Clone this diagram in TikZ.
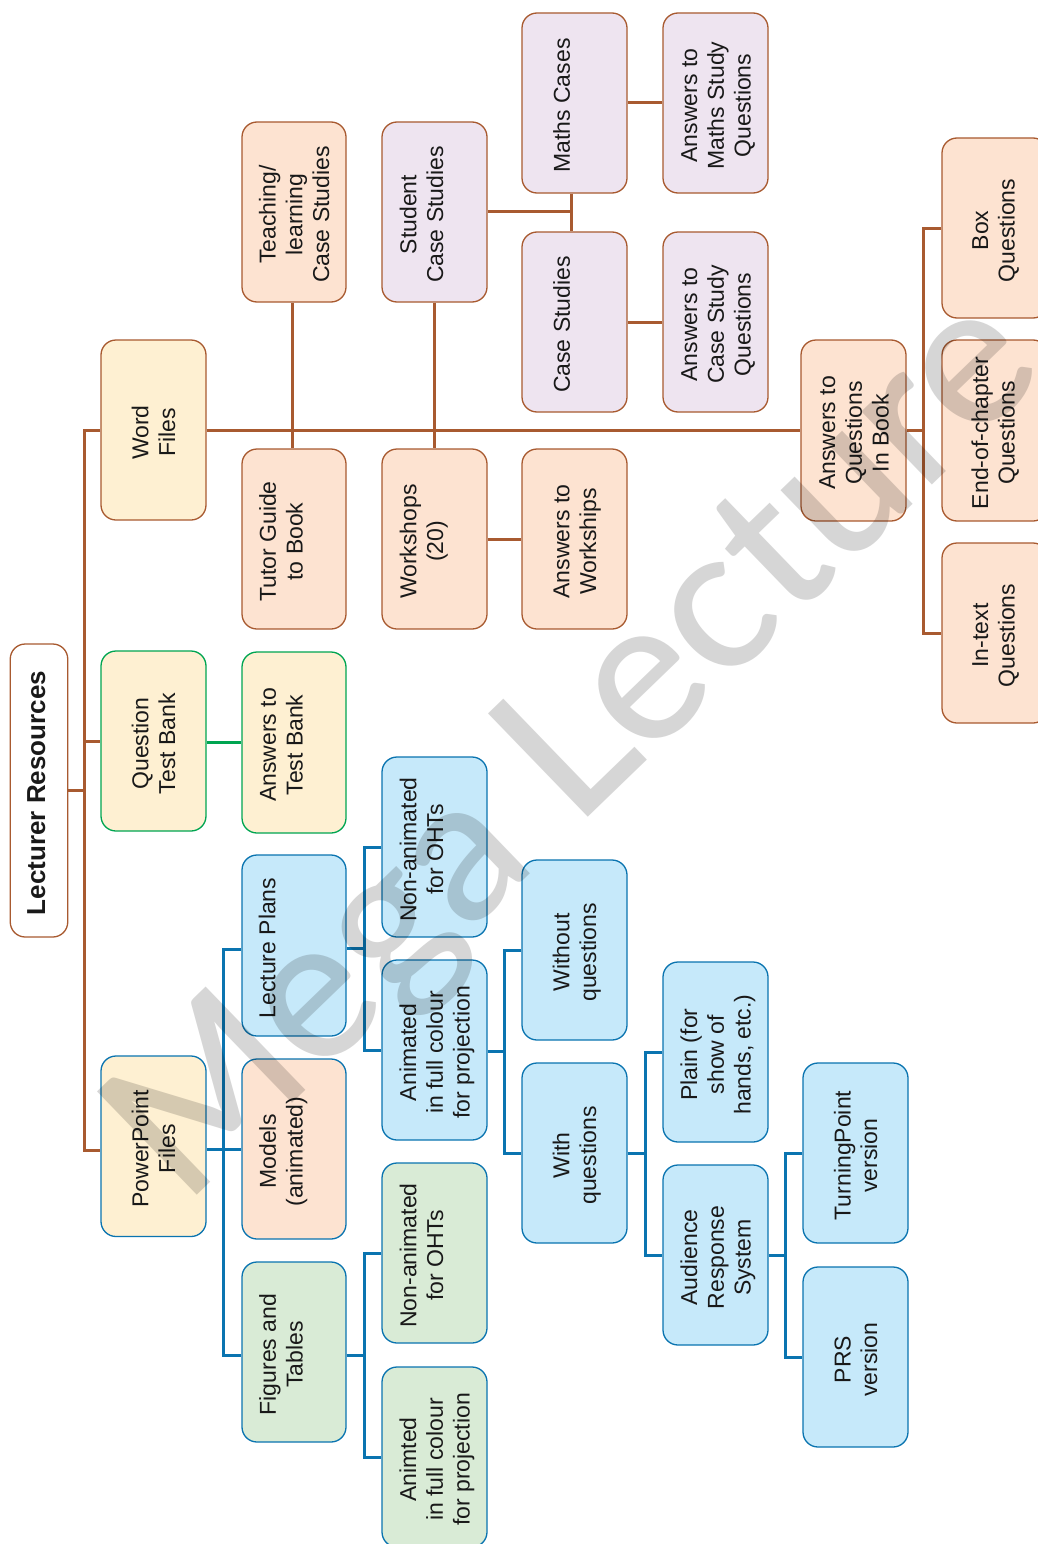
\documentclass[tikz,border=0pt]{standalone}
\usepackage{fontspec}
\setmainfont{Liberation Sans}
\newfontfamily\markfont{Lato Medium}
\definecolor{cream}{HTML}{FEF0D2}
\definecolor{peach}{HTML}{FDE3D1}
\definecolor{lilac}{HTML}{EEE4F0}
\definecolor{sky}{HTML}{C6E9FA}
\definecolor{leaf}{HTML}{D9EBD6}
\definecolor{brownl}{HTML}{A85A30}
\definecolor{bluel}{HTML}{0A74B0}
\definecolor{greenl}{HTML}{00A551}
\definecolor{mark}{HTML}{D6D6D6}
\def\toff{3}
\newcommand{\rt}[1]{\hspace*{\dimexpr\toff pt*2\relax}\rotatebox{90}{\begin{tabular}{@{}c@{}}#1\end{tabular}\kern5pt}}
\newcommand{\bx}[7]{\node[basebox,#6,minimum width={(#4-#2)*1pt},minimum height={(#5-#3)*1pt}] (#1) at ({(#2+#4)/2},{(#3+#5)/2}) {\rt{#7}};}
\tikzset{
 tx/.code={\def\toff{#1}},
 lo/.style={tx=-10},
 basebox/.style={rounded corners=15pt,line width=1.3pt,inner sep=0pt,text=black!90,font=\fontsize{23}{26.7}\selectfont,tx=3},
 bc/.style={draw=brownl,fill=cream},
 bp/.style={draw=brownl,fill=peach},
 bl/.style={draw=brownl,fill=lilac},
 gc/.style={draw=greenl,fill=cream},
 uc/.style={draw=bluel,fill=cream},
 us/.style={draw=bluel,fill=sky},
 up/.style={draw=bluel,fill=peach},
 ug/.style={draw=bluel,fill=leaf},
 brownline/.style={draw=brownl,line width=3pt},
 blueline/.style={draw=bluel,line width=3pt},
 greenline/.style={draw=greenl,line width=3pt},
}
\begin{document}
\begin{tikzpicture}[x=1pt,y=-1pt]
\useasboundingbox (0,0) rectangle (1038,1544);
\clip (0,0) rectangle (1038,1544);
\fill[white] (0,0) rectangle (1038,1544);
% connectors
\coordinate (trunk) at (84,790.5);
\coordinate (lecstub) at (223,949);
\coordinate (figstub) at (223,1355);
\coordinate (lecbus) at (364,948);
\coordinate (figbus) at (364,1355);
\coordinate (anibus) at (504,1051);
\coordinate (withbus) at (645,1153);
\coordinate (audbus) at (785,1255);
\coordinate (qbus) at (923,431);
\coordinate (mcbus) at (571.5,211);
\coordinate (teachx) at (292.5,300);
\coordinate (pptline) at (84,1150);
% nodes
\node[basebox,tx=0,draw=brownl,fill=white,minimum width=57.5pt,minimum height=293pt,font=\fontsize{26}{30}\selectfont\bfseries] (lr) at (39,790.5) {\rt{Lecturer Resources}};
\bx{word}{101}{340}{206}{520}{bc}{Word\\Files}
\bx{qtb}{101}{651}{206}{831}{gc}{Question\\Test Bank}
\bx{ppt}{101}{1056}{206}{1236.5}{uc}{PowerPoint\\Files}
\bx{atb}{242}{652}{346}{833}{gc,lo}{Answers to\\Test Bank}
\bx{lec}{242}{855}{346}{1036}{us,tx=-24}{Lecture Plans}
\bx{mod}{242}{1059}{346}{1239}{up,lo}{Models\\(animated)}
\bx{fig}{242}{1262}{346}{1442}{ug,lo}{Figures and\\Tables}
\bx{nab}{382}{757}{487}{937}{us,lo}{Non-animated\\for OHTs}
\bx{anb}{382}{960}{487}{1140}{us}{Animated\\in full colour\\for projection}
\bx{nag}{382}{1163}{487}{1343}{ug,lo}{Non-animated\\for OHTs}
\bx{ang}{382}{1367}{487}{1547}{ug}{Animted\\in full colour\\for projection}
\bx{woq}{522}{860}{627}{1040}{us}{Without\\questions}
\bx{wiq}{522}{1063}{627}{1243}{us}{With\\questions}
\bx{pla}{663}{962}{768}{1142}{us}{Plain (for\\show of\\hands, etc.)}
\bx{aud}{663}{1165}{768}{1345}{us}{Audience\\Response\\System}
\bx{tp}{803}{1063}{908}{1243}{us}{TurningPoint\\version}
\bx{prs}{803}{1267}{908}{1447}{us}{PRS\\version}
\bx{tut}{242}{449}{346}{629}{bp,lo}{Tutor Guide\\to Book}
\bx{wks}{382}{449}{487}{629}{bp,lo}{Workshops\\(20)}
\bx{awk}{522}{449}{627}{629}{bp}{Answers to\\Workships}
\bx{tea}{242}{122}{346}{302}{bp}{Teaching/\\learning\\Case Studies}
\bx{stu}{382}{122}{487}{302}{bl,lo}{Student\\Case Studies}
\bx{mat}{522}{13}{627}{193}{bl,lo}{Maths Cases}
\bx{amt}{663}{13}{768}{193}{bl}{Answers to\\Maths Study\\Questions}
\bx{cas}{522}{232}{627}{412}{bl,lo}{Case Studies}
\bx{acs}{663}{232}{768}{412}{bl}{Answers to\\Case Study\\Questions}
\bx{aq}{801}{340}{906}{521}{bp}{Answers to\\Questions\\In Book}
\bx{box}{942}{138}{1048}{318}{bp,tx=1}{Box\\Questions}
\bx{end}{942}{340}{1048}{521}{bp,tx=1}{End-of-chapter\\Questions}
\bx{int}{942}{543}{1048}{723}{bp,tx=1}{In-text\\Questions}
% brown links
\draw[brownline] (lr.east) -- (trunk);
\draw[brownline] (word.west) -- (trunk |- word.west) -- (trunk |- pptline) -- (ppt.west |- pptline);
\draw[brownline] (trunk |- qtb.west) -- (qtb.west);
\draw[brownline] (word.east) -- (aq.west |- word.east);
\draw[brownline] (teachx |- tea.south) -- (teachx |- tut.north);
\draw[brownline] (stu.south) -- (wks.north);
\draw[brownline] (wks.east) -- (awk.west);
\draw[brownline] (stu.east |- mcbus) -- (mcbus);
\draw[brownline] (mcbus |- mat.south) -- (mcbus |- cas.north);
\draw[brownline] (mat.east) -- (amt.west);
\draw[brownline] (cas.east) -- (acs.west);
\draw[brownline] (aq.east) -- (qbus |- aq.east);
\draw[brownline] (box.west) -- (qbus |- box.west) -- (qbus |- int.west) -- (int.west);
% green link
\draw[greenline] (qtb.east |- atb.west) -- (atb.west);
% blue links
\draw[blueline] (ppt.east |- mod.west) -- (mod.west);
\draw[blueline] (lecstub -| lec.west) -- (lecstub) -- (figstub) -- (figstub -| fig.west);
\draw[blueline] (lec.east |- lecbus) -- (lecbus);
\draw[blueline] (nab.west) -- (lecbus |- nab.west) -- (lecbus |- anb.west) -- (anb.west);
\draw[blueline] (fig.east |- figbus) -- (figbus);
\draw[blueline] (nag.west) -- (figbus |- nag.west) -- (figbus |- ang.west) -- (ang.west);
\draw[blueline] (anb.east |- anibus) -- (anibus);
\draw[blueline] (woq.west) -- (anibus |- woq.west) -- (anibus |- wiq.west) -- (wiq.west);
\draw[blueline] (wiq.east) -- (withbus);
\draw[blueline] (pla.west) -- (withbus |- pla.west) -- (withbus |- aud.west) -- (aud.west);
\draw[blueline] (aud.east) -- (audbus);
\draw[blueline] (tp.west) -- (audbus |- tp.west) -- (audbus |- prs.west) -- (prs.west);
% watermark
\begin{scope}[blend mode=multiply]
\node[rotate=44,inner sep=0pt,text=mark,font=\markfont\fontsize{200}{200}\selectfont] (wm) at (579,752) {Mega Lecture};
\end{scope}
\end{tikzpicture}
\end{document}
